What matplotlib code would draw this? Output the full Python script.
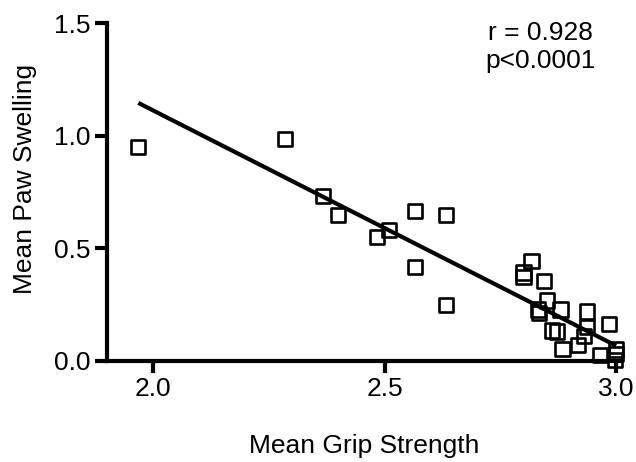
import matplotlib
matplotlib.use("Agg")
import matplotlib.pyplot as plt
import numpy as np

plt.rcParams["font.family"] = ["Liberation Sans", "DejaVu Sans"]

# mean grip strength vs mean paw swelling
grip = [1.968, 2.284, 2.367, 2.399, 2.483, 2.509, 2.566, 2.632, 2.566, 2.632,
        2.817, 2.800, 2.800, 2.845, 2.850, 2.832, 2.834, 2.880, 2.937, 2.937,
        2.930, 2.984, 2.862, 2.872, 2.884, 2.918, 2.965, 3.000, 3.000, 2.998]
swelling = [0.951, 0.984, 0.732, 0.648, 0.549, 0.581, 0.667, 0.648, 0.417, 0.249,
            0.445, 0.392, 0.372, 0.355, 0.268, 0.228, 0.212, 0.228, 0.219, 0.150,
            0.110, 0.165, 0.135, 0.130, 0.052, 0.070, 0.025, 0.050, 0.030, 0.005]
# regression line as drawn in the figure
fit_slope = -1.045
fit_intercept = 3.202
x_ticks = [2.0, 2.5, 3.0]
y_ticks = [0.0, 0.5, 1.0, 1.5]
stats_text = "r = 0.928\np<0.0001"

x = np.array(grip)
y = np.array(swelling)
xfit = np.array([x.min(), x.max()])

fig = plt.figure(figsize=(6.36, 4.62), dpi=100)
ax = fig.add_axes([0.168, 0.219, 0.808, 0.731])

ax.plot(xfit, fit_slope * xfit + fit_intercept, color="black", lw=3,
        solid_capstyle="butt", zorder=2)
ax.scatter(x, y, marker="s", s=105, facecolors="none", edgecolors="black",
           linewidths=1.9, zorder=3, clip_on=False)

ax.set_xlim(1.9, 3.01)
ax.set_ylim(0, 1.5)
ax.set_xticks(x_ticks)
ax.set_yticks(y_ticks)
ax.set_xticklabels([f"{v:.1f}" for v in x_ticks])
ax.set_yticklabels([f"{v:.1f}" for v in y_ticks])

for side in ["top", "right"]:
    ax.spines[side].set_visible(False)
for side in ["left", "bottom"]:
    ax.spines[side].set_linewidth(3)
ax.tick_params(width=3, length=8.5, labelsize=19, pad=3)

ax.set_xlabel("Mean Grip Strength", fontsize=19, labelpad=24)
ax.set_ylabel("Mean Paw Swelling", fontsize=19)
ax.yaxis.set_label_coords(-0.135, 0.54)

ax.text(0.843, 1.005, stats_text, transform=ax.transAxes, ha="center", va="top",
        fontsize=19, linespacing=1.2)

fig.savefig("out.png", dpi=100)
